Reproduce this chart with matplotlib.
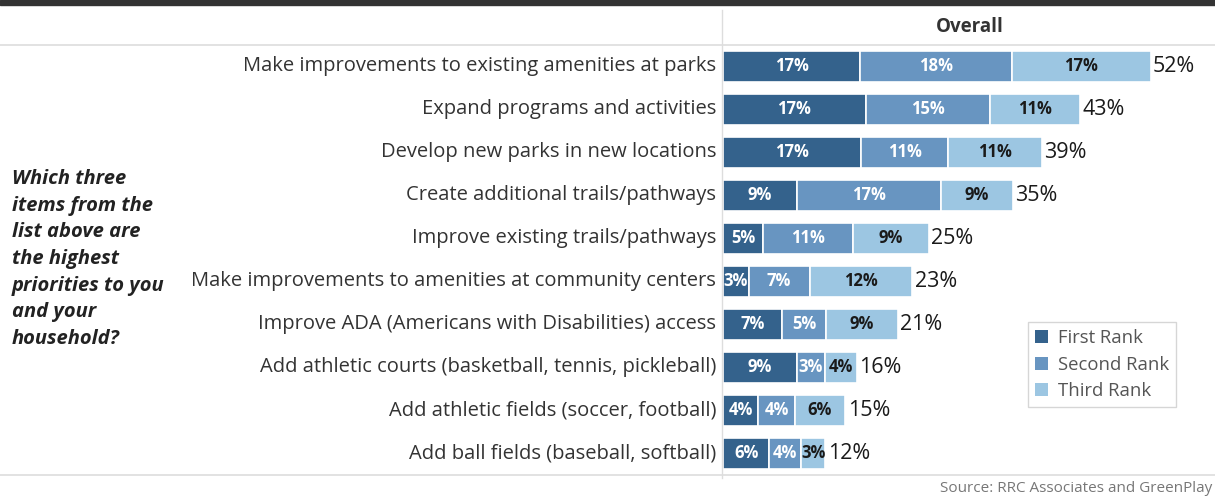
import matplotlib.pyplot as plt
from matplotlib.patches import Patch
from matplotlib.lines import Line2D

# survey items, top to bottom
items = [
    "Make improvements to existing amenities at parks",
    "Expand programs and activities",
    "Develop new parks in new locations",
    "Create additional trails/pathways",
    "Improve existing trails/pathways",
    "Make improvements to amenities at community centers",
    "Improve ADA (Americans with Disabilities) access",
    "Add athletic courts (basketball, tennis, pickleball)",
    "Add athletic fields (soccer, football)",
    "Add ball fields (baseball, softball)",
]
first_rank = [16.6, 17.3, 16.7, 9.0, 4.9, 3.1, 7.2, 9.0, 4.3, 5.6]
second_rank = [18.4, 15.1, 10.6, 17.4, 10.8, 7.4, 5.3, 3.3, 4.4, 3.9]
third_rank = [16.8, 10.9, 11.3, 8.7, 9.2, 12.4, 8.7, 3.9, 6.1, 2.9]
series_names = ["First Rank", "Second Rank", "Third Rank"]
question = ("Which three\nitems from the\nlist above are\nthe highest\n"
            "priorities to you\nand your\nhousehold?")

colors = ["#34628c", "#6895c1", "#9cc6e2"]
text_colors = ["white", "white", "#1a1a1a"]

plt.rcParams['font.family'] = ['Open Sans', 'DejaVu Sans']

fig = plt.figure(figsize=(12.15, 5.0), dpi=100)
ax = fig.add_axes([723 / 1215, 0.05, 1 - 723 / 1215, 0.86])

ypos = list(range(len(items)))
left = [0.0] * len(items)
for vals, col, tcol in zip([first_rank, second_rank, third_rank], colors, text_colors):
    ax.barh(ypos, vals, left=left, height=0.72, color=col,
            edgecolor="white", linewidth=1.2)
    for y, v, l in zip(ypos, vals, left):
        ax.text(l + v / 2, y, f"{v:.0f}%", ha="center", va="center",
                color=tcol, fontsize=12, fontweight="bold")
    left = [l + v for l, v in zip(left, vals)]

for y, tot in zip(ypos, left):
    ax.text(tot + 0.3, y, f"{tot:.0f}%", ha="left", va="center",
            color="#1a1a1a", fontsize=15.5)

ax.set_xlim(0, 59.6)
ax.set_ylim(9.5, -0.5)
ax.axis("off")

# item labels, right aligned against the axis
for y, name in zip(ypos, items):
    ax.annotate(name, xy=(0, y), xycoords=("axes fraction", "data"),
                xytext=(-5, 0), textcoords="offset points",
                ha="right", va="center", fontsize=14.5, color="#333333")

# frame lines
fig.patches.append(plt.Rectangle((0, 0.99), 1, 0.01, transform=fig.transFigure,
                                 color="#333333", zorder=5))
fig.add_artist(Line2D([0, 1], [1 - 45 / 500, 1 - 45 / 500], color="#dddddd", lw=1.2))
fig.add_artist(Line2D([0, 1], [1 - 475 / 500, 1 - 475 / 500], color="#dddddd", lw=1.2))
fig.add_artist(Line2D([722 / 1215, 722 / 1215], [1 - 10 / 500, 1 - 478 / 500],
                      color="#dddddd", lw=1.0))

fig.text(970 / 1215, 1 - 27 / 500, "Overall", ha="center", va="center",
         fontsize=13.5, fontweight="bold", color="#333333")

fig.text(12 / 1215, 1 - 259 / 500, question, ha="left", va="center",
         fontsize=14.5, fontweight="bold", fontstyle="italic",
         color="#222222", linespacing=1.45)

handles = [Patch(facecolor=c, label=n) for c, n in zip(colors, series_names)]
leg = fig.legend(handles=handles, loc="upper left",
                 bbox_to_anchor=(1028 / 1215, 1 - 322 / 500), borderaxespad=0,
                 fontsize=13.3, frameon=True, fancybox=False, edgecolor="#cccccc",
                 handlelength=0.7, handleheight=0.7, handletextpad=0.5,
                 borderpad=0.4, labelspacing=0.45, labelcolor="#555555")
leg.get_frame().set_linewidth(1.0)

fig.text(1212 / 1215, 1 - 489 / 500, "Source: RRC Associates and GreenPlay",
         ha="right", va="center", fontsize=11, color="#777777")

fig.savefig("out.png", dpi=100)
